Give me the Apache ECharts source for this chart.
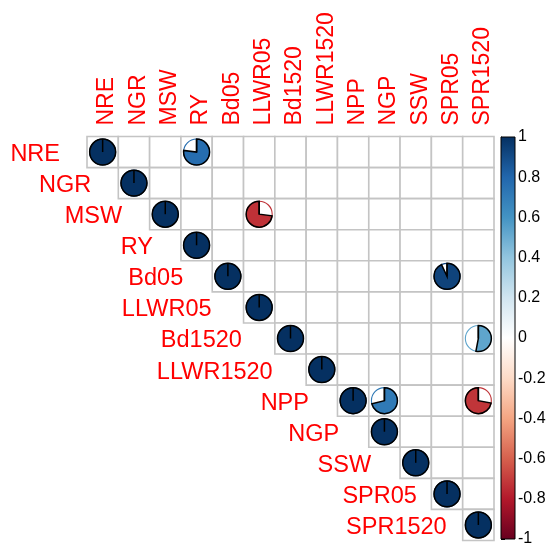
<!DOCTYPE html>
<html>
<head>
<meta charset="utf-8">
<script src="https://cdn.jsdelivr.net/npm/echarts@6/dist/echarts.min.js"></script>
<style>
  html, body { margin: 0; padding: 0; background: #ffffff; }
  #chart { width: 551px; height: 547px; }
</style>
</head>
<body>
<div id="chart"></div>
<script>
// Variables of the correlation matrix (same order on both axes)
const variables = ['NRE', 'NGR', 'MSW', 'RY', 'Bd05', 'LLWR05', 'Bd1520',
                   'LLWR1520', 'NPP', 'NGP', 'SSW', 'SPR05', 'SPR1520'];

// Significant off-diagonal coefficients (upper triangle); other cells are blank
const pairRows   = ['NRE', 'MSW',    'Bd05',  'Bd1520',  'NPP', 'NPP'];
const pairCols   = ['RY',  'LLWR05', 'SPR05', 'SPR1520', 'NGP', 'SPR1520'];
const pairValues = [0.77,  -0.73,    0.93,    0.53,      0.71,  -0.72];

// Colour legend ticks
const legendTicks = [1, 0.8, 0.6, 0.4, 0.2, 0, -0.2, -0.4, -0.6, -0.8, -1];

// Diverging RdBu palette, from -1 to 1
const palette = ['#67001F', '#B2182B', '#D6604D', '#F4A582', '#FDDBC7', '#FFFFFF',
                 '#D1E5F0', '#92C5DE', '#4393C3', '#2166AC', '#053061'];

// ---- layout / style ----
const FONT = "'Liberation Sans', Arial, Helvetica, sans-serif";
const LABEL_RED = '#FF0000';
const GRID_GREY = '#C4C4C4';
// horizontal distance between each row label and its diagonal cell
const rowLabelGap = [27, 27, 27.5, 28, 29, 32, 33, 33.5, 28.5, 29.5, 29, 14.5, 16];

function hexToRgb(h) {
  const n = parseInt(h.slice(1), 16);
  return [(n >> 16) & 255, (n >> 8) & 255, n & 255];
}
function colorOf(v) {
  const t = (Math.max(-1, Math.min(1, v)) + 1) / 2 * (palette.length - 1);
  const k = Math.min(Math.floor(t), palette.length - 2);
  const f = t - k;
  const a = hexToRgb(palette[k]), b = hexToRgb(palette[k + 1]);
  const c = a.map((x, i) => Math.round(x + (b[i] - x) * f));
  return 'rgb(' + c.join(',') + ')';
}

// Cells of the upper triangle, and the pies (diagonal + significant pairs)
const cellData = [];
const pieData = [];
for (let i = 0; i < variables.length; i++) {
  for (let j = i; j < variables.length; j++) {
    cellData.push([j, i]);
  }
  pieData.push([i, i, 1]);
}
pairRows.forEach((rn, k) => {
  pieData.push([variables.indexOf(pairCols[k]), variables.indexOf(rn), pairValues[k]]);
});
const labelData = variables.map((name, i) => [i, i]);

function renderCell(params, api) {
  const c = api.coord([api.value(0), api.value(1)]);
  const s = api.size([1, 1]);
  return {
    type: 'rect',
    shape: { x: c[0] - s[0] / 2, y: c[1] - s[1] / 2, width: s[0], height: s[1] },
    style: { fill: '#ffffff', stroke: GRID_GREY, lineWidth: 1.6 }
  };
}

function renderPie(params, api) {
  const v = api.value(2);
  const c = api.coord([api.value(0), api.value(1)]);
  const s = api.size([1, 1]);
  const r = Math.min(s[0], s[1]) * 0.418;
  const col = colorOf(v);
  const start = -Math.PI / 2;
  const sweep = 2 * Math.PI * Math.abs(v);
  return {
    type: 'group',
    children: [
      { type: 'circle', shape: { cx: c[0], cy: c[1], r: r },
        style: { fill: '#ffffff', stroke: col, lineWidth: 1.1 } },
      { type: 'sector',
        shape: { cx: c[0], cy: c[1], r0: 0, r: r, startAngle: start,
                 endAngle: v >= 0 ? start + sweep : start - sweep, clockwise: v >= 0 },
        style: { fill: col, stroke: '#000000', lineWidth: 1.5 } },
      { type: 'line', shape: { x1: c[0], y1: c[1], x2: c[0], y2: c[1] - r },
        style: { stroke: '#000000', lineWidth: 1.5 } }
    ]
  };
}

function renderLabels(params, api) {
  const i = api.value(0);
  const name = variables[i];
  const s = api.size([1, 1]);
  const top = api.coord([i, 0]);
  const diag = api.coord([i, i]);
  return {
    type: 'group',
    children: [
      { type: 'text', x: top[0] + 4.5, y: top[1] - s[1] / 2 - 11, rotation: Math.PI / 2,
        style: { text: name, fill: LABEL_RED, font: '23px ' + FONT, align: 'left', verticalAlign: 'middle' } },
      { type: 'text', x: diag[0] - s[0] / 2 - rowLabelGap[i], y: diag[1] + 2.5,
        style: { text: name, fill: LABEL_RED, font: '23.5px ' + FONT, align: 'right', verticalAlign: 'middle' } }
    ]
  };
}

function renderColorbar(params, api) {
  const p1 = api.coord([0, 1]);
  const p2 = api.coord([1, -1]);
  const stops = palette.map((c, k) => ({ offset: 1 - k / (palette.length - 1), color: c })).reverse();
  return {
    type: 'rect',
    shape: { x: p1[0], y: p1[1], width: p2[0] - p1[0], height: p2[1] - p1[1] },
    style: {
      fill: new echarts.graphic.LinearGradient(0, 0, 0, 1, stops),
      stroke: '#000000', lineWidth: 1
    }
  };
}

const chart = echarts.init(document.getElementById('chart'), null, { renderer: 'canvas' });
chart.setOption({
  animation: false,
  backgroundColor: '#ffffff',
  grid: [
    { left: 87, top: 136.5, width: 407, height: 404 },
    { left: 501, top: 137, width: 14, height: 403 }
  ],
  xAxis: [
    { type: 'category', data: variables, gridIndex: 0, position: 'top',
      axisLine: { show: false }, axisTick: { show: false }, axisLabel: { show: false },
      splitLine: { show: false } },
    { type: 'value', gridIndex: 1, min: 0, max: 1, show: false }
  ],
  yAxis: [
    { type: 'category', data: variables, gridIndex: 0, inverse: true,
      axisLine: { show: false }, axisTick: { show: false }, axisLabel: { show: false },
      splitLine: { show: false } },
    { type: 'value', gridIndex: 1, min: -1, max: 1, interval: 0.2, position: 'right',
      axisLine: { show: true, lineStyle: { color: '#000000', width: 1 } },
      axisTick: { show: true, length: 4, lineStyle: { color: '#000000', width: 1 } },
      axisLabel: { show: true, color: '#000000', fontFamily: FONT, fontSize: 16, margin: 3,
        customValues: legendTicks,
        formatter: v => String(Math.round(v * 10) / 10) },
      splitLine: { show: false } }
  ],
  series: [
    { type: 'custom', xAxisIndex: 0, yAxisIndex: 0, data: cellData, renderItem: renderCell,
      encode: { x: 0, y: 1 }, silent: true, clip: false },
    { type: 'custom', xAxisIndex: 0, yAxisIndex: 0, data: pieData, renderItem: renderPie,
      encode: { x: 0, y: 1 }, silent: true, clip: false },
    { type: 'custom', xAxisIndex: 0, yAxisIndex: 0, data: labelData, renderItem: renderLabels,
      encode: { x: 0, y: 1 }, silent: true, clip: false },
    { type: 'custom', xAxisIndex: 1, yAxisIndex: 1, data: [[0, -1]], renderItem: renderColorbar,
      encode: { x: 0, y: 1 }, silent: true, clip: false }
  ]
});
</script>
</body>
</html>
